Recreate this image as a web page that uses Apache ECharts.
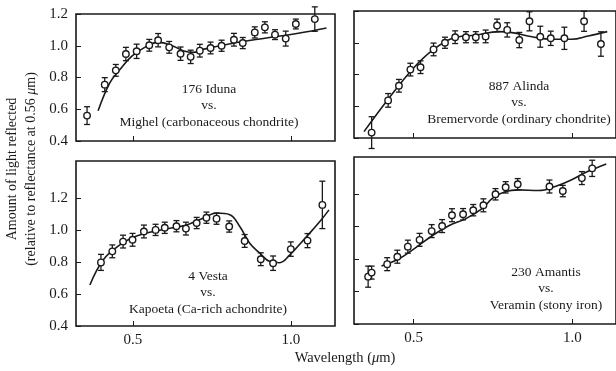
<!DOCTYPE html>
<html>
<head>
<meta charset="utf-8">
<script src="https://cdn.jsdelivr.net/npm/echarts@6/dist/echarts.min.js"></script>
<style>
  html, body { margin: 0; padding: 0; background: #fff; }
  #chart { width: 616px; height: 371px; }
</style>
</head>
<body>
<div id="chart"></div>
<script>
// 176 Iduna vs. Mighel
const idunaWl = [0.355, 0.411, 0.446, 0.478, 0.512, 0.552, 0.58, 0.615, 0.651, 0.683, 0.712, 0.746, 0.781, 0.82, 0.848, 0.886, 0.918, 0.95, 0.984, 1.016, 1.076];
const idunaRef = [0.56, 0.755, 0.845, 0.948, 0.965, 1.003, 1.035, 0.99, 0.95, 0.93, 0.969, 0.986, 1.0, 1.038, 1.017, 1.084, 1.116, 1.07, 1.045, 1.137, 1.168];
const idunaErr = [0.056, 0.044, 0.037, 0.042, 0.045, 0.037, 0.042, 0.037, 0.042, 0.042, 0.04, 0.037, 0.035, 0.04, 0.035, 0.035, 0.035, 0.031, 0.047, 0.031, 0.077];
const idunaFitWl = [0.39, 0.427, 0.459, 0.496, 0.543, 0.58, 0.617, 0.659, 0.69, 0.722, 0.817, 0.923, 1.028, 1.113];
const idunaFitRef = [0.59, 0.766, 0.85, 0.933, 0.996, 1.021, 1.007, 0.969, 0.958, 0.977, 1.016, 1.049, 1.08, 1.112];

// 887 Alinda vs. Bremervorde
const alindaWl = [0.368, 0.42, 0.454, 0.49, 0.522, 0.563, 0.599, 0.631, 0.665, 0.696, 0.727, 0.763, 0.795, 0.833, 0.865, 0.899, 0.932, 0.975, 1.037, 1.09];
const alindaRef = [0.434, 0.637, 0.729, 0.831, 0.846, 0.958, 1.0, 1.035, 1.035, 1.035, 1.04, 1.109, 1.081, 1.017, 1.135, 1.038, 1.028, 1.028, 1.135, 0.992];
const alindaErr = [0.1, 0.043, 0.04, 0.04, 0.04, 0.04, 0.035, 0.04, 0.035, 0.035, 0.04, 0.04, 0.045, 0.048, 0.06, 0.066, 0.045, 0.07, 0.063, 0.077];
const alindaFitWl = [0.344, 0.42, 0.498, 0.56, 0.623, 0.696, 0.769, 0.81, 0.873, 0.935, 0.998, 1.05, 1.11];
const alindaFitRef = [0.44, 0.644, 0.836, 0.953, 1.028, 1.049, 1.07, 1.064, 1.038, 1.022, 1.022, 1.043, 1.07];

// 4 Vesta vs. Kapoeta
const vestaWl = [0.399, 0.435, 0.469, 0.499, 0.535, 0.572, 0.601, 0.638, 0.668, 0.702, 0.733, 0.765, 0.805, 0.854, 0.905, 0.944, 1.0, 1.053, 1.10];
const vestaRef = [0.797, 0.866, 0.927, 0.938, 0.99, 1.0, 1.013, 1.023, 1.008, 1.043, 1.076, 1.07, 1.021, 0.931, 0.817, 0.792, 0.88, 0.933, 1.156];
const vestaErr = [0.05, 0.04, 0.04, 0.04, 0.04, 0.035, 0.035, 0.035, 0.04, 0.035, 0.035, 0.035, 0.035, 0.04, 0.04, 0.045, 0.045, 0.044, 0.148];
const vestaFitWl = [0.364, 0.406, 0.459, 0.512, 0.617, 0.67, 0.722, 0.765, 0.807, 0.839, 0.87, 0.902, 0.934, 0.965, 0.997, 1.05, 1.092, 1.121];
const vestaFitRef = [0.656, 0.8125, 0.906, 0.9625, 1.01, 1.031, 1.073, 1.105, 1.095, 1.02, 0.917, 0.854, 0.802, 0.795, 0.844, 0.958, 1.052, 1.125];

// 230 Amantis vs. Veramin
const amantisWl = [0.357, 0.368, 0.417, 0.449, 0.482, 0.519, 0.557, 0.59, 0.621, 0.656, 0.688, 0.72, 0.758, 0.79, 0.828, 0.928, 0.97, 1.03, 1.0625];
const amantisRef = [0.692, 0.717, 0.769, 0.815, 0.877, 0.919, 0.973, 1.004, 1.071, 1.077, 1.102, 1.132, 1.2, 1.243, 1.262, 1.248, 1.22, 1.3, 1.36];
const amantisErr = [0.065, 0.04, 0.04, 0.04, 0.04, 0.04, 0.04, 0.04, 0.04, 0.035, 0.035, 0.04, 0.035, 0.035, 0.035, 0.04, 0.035, 0.04, 0.05];
const amantisFitWl = [0.399, 0.456, 0.508, 0.56, 0.6125, 0.665, 0.717, 0.748, 0.79, 0.831, 0.894, 0.946, 0.998, 1.05, 1.107];
const amantisFitRef = [0.758, 0.804, 0.873, 0.946, 1.008, 1.05, 1.1125, 1.175, 1.217, 1.227, 1.223, 1.248, 1.29, 1.342, 1.3875];

const xTicks = [0.5, 1.0];
const yTicks = [0.4, 0.6, 0.8, 1.0, 1.2];

const ink = '#1a1a1a';
const serif = 'Liberation Serif';

function renderErr(params, api) {
    const x = api.value(0);
    const lo = api.coord([x, api.value(1)]);
    const hi = api.coord([x, api.value(2)]);
    const cap = 3;
    const st = { stroke: ink, lineWidth: 1.3 };
    return {
        type: 'group',
        children: [
            { type: 'line', shape: { x1: lo[0], y1: lo[1], x2: hi[0], y2: hi[1] }, style: st },
            { type: 'line', shape: { x1: hi[0] - cap, y1: hi[1], x2: hi[0] + cap, y2: hi[1] }, style: st },
            { type: 'line', shape: { x1: lo[0] - cap, y1: lo[1], x2: lo[0] + cap, y2: lo[1] }, style: st }
        ]
    };
}

function panelSeries(idx, wl, ref, err, fitWl, fitRef) {
    return [{
        type: 'line',
        xAxisIndex: idx,
        yAxisIndex: idx,
        data: fitWl.map((w, i) => [w, fitRef[i]]),
        smooth: 0.4,
        showSymbol: false,
        clip: false,
        lineStyle: { color: ink, width: 1.6 },
        z: 2
    }, {
        type: 'custom',
        xAxisIndex: idx,
        yAxisIndex: idx,
        data: wl.map((w, i) => [w, ref[i] - err[i], ref[i] + err[i]]),
        encode: { x: 0, y: [1, 2] },
        renderItem: renderErr,
        clip: false,
        z: 3
    }, {
        type: 'scatter',
        xAxisIndex: idx,
        yAxisIndex: idx,
        data: wl.map((w, i) => [w, ref[i]]),
        symbol: 'circle',
        symbolSize: 6.5,
        itemStyle: { color: '#fff', borderColor: ink, borderWidth: 1.4, opacity: 1 },
        z: 4
    }];
}

function xAxisFor(idx, min, max, showLabels) {
    return {
        type: 'value', gridIndex: idx, min: min, max: max,
        splitLine: { show: false },
        axisLine: { show: false },
        axisTick: { show: true, inside: true, length: 5, customValues: xTicks, lineStyle: { color: ink } },
        axisLabel: {
            show: showLabels, customValues: xTicks, margin: 7,
            color: ink, fontFamily: serif, fontSize: 15,
            formatter: v => v.toFixed(1)
        }
    };
}

function yAxisFor(idx, max, showLabels) {
    return {
        type: 'value', gridIndex: idx, min: 0.4, max: max,
        splitLine: { show: false },
        axisLine: { show: false },
        axisTick: { show: true, inside: true, length: 5, customValues: yTicks, lineStyle: { color: ink } },
        axisLabel: {
            show: showLabels, customValues: yTicks, margin: 8,
            color: ink, fontFamily: serif, fontSize: 15,
            formatter: v => v.toFixed(1)
        }
    };
}

function note(x, y, lines) {
    return lines.map((t, i) => ({
        type: 'text',
        x: x,
        y: y + i * 16.5,
        style: {
            text: t, fill: ink, font: '13.5px "Liberation Serif"',
            textAlign: 'center', textVerticalAlign: 'middle'
        }
    }));
}

const frame = { show: true, borderColor: ink, borderWidth: 1.6, backgroundColor: 'transparent' };

const options = {
    backgroundColor: '#fff',
    animation: false,
    grid: [
        Object.assign({ left: 76, top: 14, width: 259, height: 127 }, frame),
        Object.assign({ left: 354, top: 11, width: 264, height: 127 }, frame),
        Object.assign({ left: 76, top: 161, width: 259, height: 165 }, frame),
        Object.assign({ left: 354, top: 157, width: 264, height: 167 }, frame)
    ],
    xAxis: [
        xAxisFor(0, 0.32, 1.14, false),
        xAxisFor(1, 0.3125, 1.1375, false),
        xAxisFor(2, 0.32, 1.14, true),
        xAxisFor(3, 0.3125, 1.1375, true)
    ],
    yAxis: [
        yAxisFor(0, 1.2, true),
        yAxisFor(1, 1.2, false),
        yAxisFor(2, 1.43, true),
        yAxisFor(3, 1.43, false)
    ],
    series: [].concat(
        panelSeries(0, idunaWl, idunaRef, idunaErr, idunaFitWl, idunaFitRef),
        panelSeries(1, alindaWl, alindaRef, alindaErr, alindaFitWl, alindaFitRef),
        panelSeries(2, vestaWl, vestaRef, vestaErr, vestaFitWl, vestaFitRef),
        panelSeries(3, amantisWl, amantisRef, amantisErr, amantisFitWl, amantisFitRef)
    ),
    graphic: [].concat(
        note(209, 89, ['176 Iduna', 'vs.', 'Mighel (carbonaceous chondrite)']),
        note(519, 86, ['887 Alinda', 'vs.', 'Bremervorde (ordinary chondrite)']),
        note(208, 276, ['4 Vesta', 'vs.', 'Kapoeta (Ca-rich achondrite)']),
        note(546, 272, ['230 Amantis', 'vs.', 'Veramin (stony iron)']),
        [{
            type: 'text', x: 12, y: 169, rotation: Math.PI / 2,
            style: {
                text: 'Amount of light reflected', fill: ink, font: '14px "Liberation Serif"',
                textAlign: 'center', textVerticalAlign: 'middle'
            }
        }, {
            type: 'text', x: 31, y: 169, rotation: Math.PI / 2,
            style: {
                text: '{a|(relative to reflectance at 0.56 }{i|μ}{a|m)}',
                textAlign: 'center', textVerticalAlign: 'middle',
                rich: {
                    a: { fill: ink, fontFamily: serif, fontSize: 14 },
                    i: { fill: ink, fontFamily: serif, fontSize: 14, fontStyle: 'italic' }
                }
            }
        }, {
            type: 'text', x: 345, y: 358,
            style: {
                text: '{a|Wavelength (}{i|μ}{a|m)}',
                textAlign: 'center', textVerticalAlign: 'middle',
                rich: {
                    a: { fill: ink, fontFamily: serif, fontSize: 14.5 },
                    i: { fill: ink, fontFamily: serif, fontSize: 14.5, fontStyle: 'italic' }
                }
            }
        }]
    )
};

const chart = echarts.init(document.getElementById('chart'));
chart.setOption(options);
</script>
</body>
</html>
